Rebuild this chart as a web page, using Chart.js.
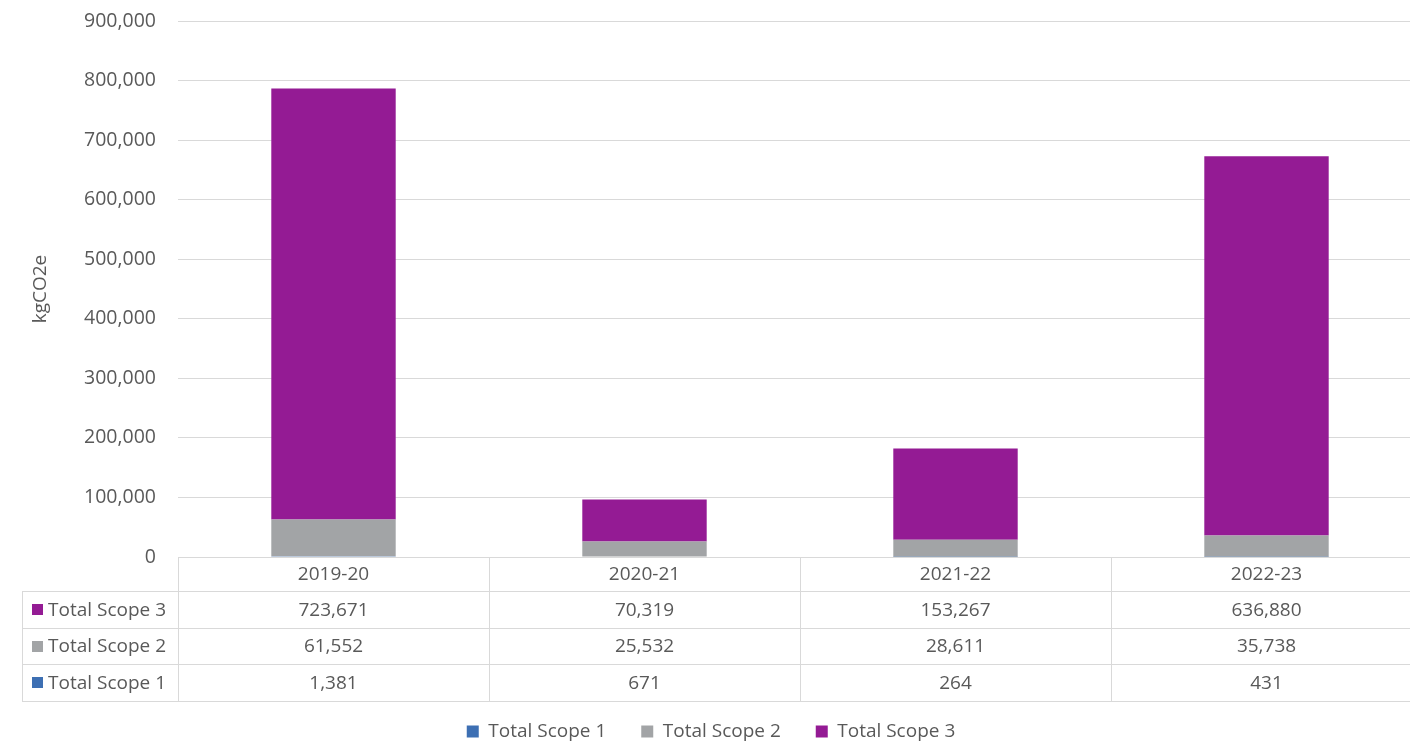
<!DOCTYPE html>
<html>
<head>
<meta charset="utf-8">
<script src="https://cdn.jsdelivr.net/npm/chart.js"></script>
<style>
  html, body { margin: 0; padding: 0; background: #fff; overflow: hidden; }
  #wrap { width: 1422px; height: 745px; }
</style>
</head>
<body>
<div id="wrap"><canvas id="emissionsChart" width="1422" height="745"></canvas></div>
<script>
// Emissions by reporting year (kgCO2e)
const years = ['2019-20', '2020-21', '2021-22', '2022-23'];
const scope1 = [1381, 671, 264, 431];
const scope2 = [61552, 25532, 28611, 35738];
const scope3 = [723671, 70319, 153267, 636880];
const seriesNames = ['Total Scope 1', 'Total Scope 2', 'Total Scope 3'];
const seriesColors = ['#3D6FB3', '#A2A4A6', '#941B94'];
const yMax = 900000;
const yStep = 100000;

const textColor = '#595959';
const lineColor = '#D9D9D9';
const fontFamily = '"Open Sans", "Noto Sans", sans-serif';
const fmt = v => Number(v).toLocaleString('en-US');

// Data table drawn under the plot, lined up with the category scale
const dataTable = {
  id: 'dataTable',
  afterDraw(chart) {
    const { ctx, chartArea: area, scales: { x } } = chart;
    const top = area.bottom;
    const headerH = 34;
    const rowH = 36.5;
    const labelLeft = 22;
    const order = [2, 1, 0]; // Scope 3 row first
    const colW = (area.right - area.left) / years.length;
    const bottom = top + headerH + rowH * order.length;

    ctx.save();
    ctx.strokeStyle = lineColor;
    ctx.lineWidth = 1;
    ctx.beginPath();
    // horizontal rules
    for (let r = 0; r <= order.length; r++) {
      const y = Math.round(top + headerH + r * rowH) + 0.5;
      ctx.moveTo(labelLeft, y);
      ctx.lineTo(area.right, y);
    }
    // vertical rules
    ctx.moveTo(labelLeft + 0.5, Math.round(top + headerH));
    ctx.lineTo(labelLeft + 0.5, Math.round(bottom) + 1);
    for (let c = 0; c <= years.length; c++) {
      const xx = Math.round(area.left + c * colW) + 0.5;
      ctx.moveTo(xx, top);
      ctx.lineTo(xx, Math.round(bottom) + 1);
    }
    ctx.stroke();

    ctx.font = '19px ' + fontFamily;
    ctx.fillStyle = textColor;
    ctx.textBaseline = 'middle';
    ctx.textAlign = 'center';
    years.forEach((yr, i) => {
      ctx.fillText(yr, x.getPixelForValue(i), top + headerH / 2 + 1);
    });

    order.forEach((ds, r) => {
      const cy = top + headerH + r * rowH + rowH / 2 + 1;
      const set = chart.data.datasets[ds];
      ctx.fillStyle = set.backgroundColor;
      ctx.fillRect(32, Math.round(cy - 6), 11, 11);
      ctx.fillStyle = textColor;
      ctx.textAlign = 'left';
      ctx.fillText(set.label, 48, cy);
      ctx.textAlign = 'center';
      set.data.forEach((v, i) => {
        ctx.fillText(fmt(v), x.getPixelForValue(i), cy);
      });
    });
    ctx.restore();
  }
};

const config = {
  type: 'bar',
  data: {
    labels: years,
    datasets: [
      { label: seriesNames[0], data: scope1, backgroundColor: seriesColors[0] },
      { label: seriesNames[1], data: scope2, backgroundColor: seriesColors[1] },
      { label: seriesNames[2], data: scope3, backgroundColor: seriesColors[2] }
    ]
  },
  options: {
    responsive: false,
    animation: false,
    layout: { padding: { top: 21, left: 0, right: 0, bottom: -6 } },
    datasets: {
      bar: { categoryPercentage: 1, barPercentage: 0.4, borderWidth: 0 }
    },
    scales: {
      x: {
        stacked: true,
        ticks: { display: false },
        grid: { display: false },
        border: { display: false },
        afterFit: s => { s.height = 130; }
      },
      y: {
        stacked: true,
        min: 0,
        max: yMax,
        ticks: {
          stepSize: yStep,
          padding: 0,
          color: textColor,
          font: { family: fontFamily, size: 19.5 },
          callback: v => fmt(v)
        },
        // invisible tick marks keep the labels clear of the plot
        grid: { color: lineColor, drawTicks: true, tickLength: 22, tickColor: 'rgba(0,0,0,0)' },
        border: { display: false },
        title: {
          display: true,
          text: 'kgCO2e',
          color: textColor,
          font: { family: fontFamily, size: 19 },
          padding: { top: 29, bottom: 0 }
        },
        afterFit: s => { s.width = 178; }
      }
    },
    plugins: {
      legend: {
        position: 'bottom',
        labels: {
          boxWidth: 12,
          boxHeight: 12,
          padding: 35,
          color: textColor,
          font: { family: fontFamily, size: 19 }
        }
      },
      tooltip: { enabled: false }
    }
  },
  plugins: [dataTable]
};

new Chart(document.getElementById('emissionsChart'), config);
</script>
</body>
</html>
